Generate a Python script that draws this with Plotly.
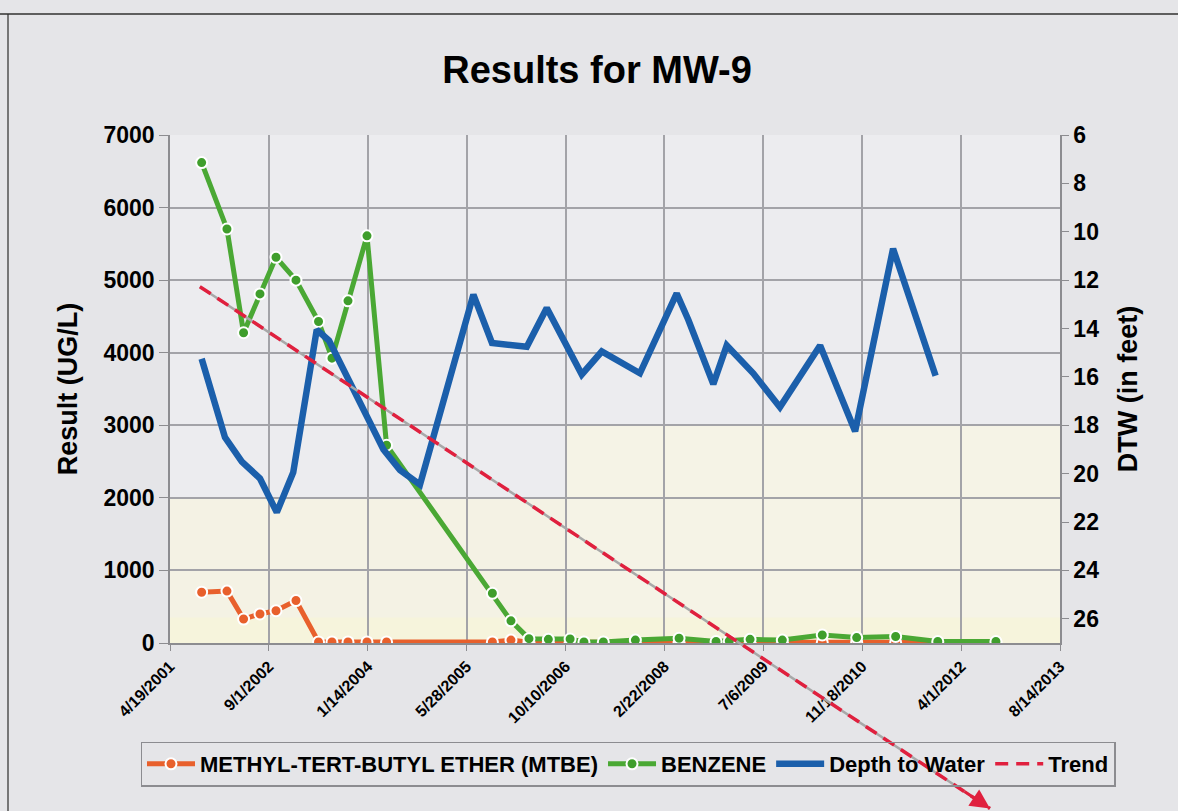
import plotly.graph_objects as go
import pandas as pd

# ---------------- data ----------------
chem_dates = ["2001-09-26", "2002-02-01", "2002-04-26", "2002-07-18", "2002-10-07",
              "2003-01-16", "2003-05-10", "2003-07-17", "2003-10-06", "2004-01-10",
              "2004-04-18", "2005-10-05", "2006-01-07", "2006-04-08", "2006-07-15",
              "2006-11-02", "2007-01-11", "2007-04-19", "2007-09-28", "2008-05-06",
              "2008-11-09", "2009-01-15", "2009-04-30", "2009-10-10", "2010-04-30",
              "2010-10-21", "2011-05-06", "2011-12-05", "2012-09-24"]
mtbe = [700, 715, 330, 400, 445, 585, 15, 15, 15, 15, 15, 15, 40, 10, 10,
        10, 10, 10, 10, 10, 10, 10, 10, 10, 5, 10, 5, 10, 10]
benzene = [6620, 5705, 4275, 4810, 5315, 5000, 4430, 3925, 4715, 5610, 2725, 685, 305, 60, 50,
           55, 15, 15, 40, 65, 20, 30, 50, 40, 110, 75, 90, 20, 20]

dtw_dates = ["2001-09-26", "2002-01-22", "2002-04-17", "2002-07-18", "2002-10-11",
             "2003-01-02", "2003-05-01", "2003-07-02", "2004-04-02", "2004-06-25",
             "2004-10-04", "2005-07-01", "2005-10-03", "2006-03-28", "2006-07-07",
             "2006-12-31", "2007-04-11", "2007-10-21", "2008-04-24", "2008-06-22",
             "2008-10-26", "2009-01-02", "2009-05-16", "2009-09-28", "2010-04-19",
             "2010-10-13", "2011-04-23", "2011-11-24"]
dtw = [15.25, 18.5, 19.5, 20.2, 21.6, 19.95, 14.05, 14.5, 19.0, 19.85,
       20.45, 12.6, 14.6, 14.75, 13.15, 15.9, 14.95, 15.85, 12.55, 13.65,
       16.3, 14.7, 15.85, 17.25, 14.7, 18.25, 10.7, 15.95]

trend_dates = ["2001-09-17", "2012-08-25"]
trend_values = [4910, -2280]

x_tick0 = "2001-04-19"
x_end = "2013-08-14"
y_left_max = 7000
y_right_range = [27, 6]

# ---------------- layout geometry ----------------
W, H = 1178, 811
xdom = [170 / W, 1060 / W]
ydom = [1 - 643 / H, 1 - 135 / H]

# full-figure helper axes that share the main scale (for the trend arrow leaving the plot)
xs, xe = pd.Timestamp(x_tick0), pd.Timestamp(x_end)
span = xe - xs
fx = xdom[1] - xdom[0]
x3_range = [str(xs - span * (xdom[0] / fx)), str(xs + span * ((1 - xdom[0]) / fx))]
fy = ydom[1] - ydom[0]
y3_range = [-y_left_max * ydom[0] / fy, y_left_max * (1 - ydom[0]) / fy]

FONT = "Liberation Sans, Arial, sans-serif"
ORANGE = "#e8602c"
GREEN = "#4aa834"
BLUE = "#1b5fab"
RED = "#e0203e"
GRID = "#a3a3a8"

fig = go.Figure()

fig.add_trace(go.Scatter(
    x=chem_dates, y=mtbe, name="METHYL-TERT-BUTYL ETHER (MTBE)", mode="lines+markers",
    line=dict(color=ORANGE, width=5),
    marker=dict(color=ORANGE, size=11, line=dict(color="white", width=2)),
    xaxis="x", yaxis="y", legendrank=1))

fig.add_trace(go.Scatter(
    x=chem_dates, y=benzene, name="BENZENE", mode="lines+markers",
    line=dict(color=GREEN, width=5),
    marker=dict(color="#3f9e2c", size=11, line=dict(color="white", width=2)),
    xaxis="x", yaxis="y", legendrank=2))

fig.add_trace(go.Scatter(
    x=dtw_dates, y=dtw, name="Depth to Water", mode="lines",
    line=dict(color=BLUE, width=6.5),
    xaxis="x", yaxis="y2", legendrank=3))

fig.add_trace(go.Scatter(
    x=trend_dates, y=trend_values, mode="lines", showlegend=False, hoverinfo="skip",
    line=dict(color="#a8a8a8", width=2.5),
    xaxis="x3", yaxis="y3"))

fig.add_trace(go.Scatter(
    x=trend_dates, y=trend_values, name="Trend", mode="lines",
    line=dict(color=RED, width=3.5, dash="13px,8px"),
    xaxis="x3", yaxis="y3", legendrank=4))

fig.add_annotation(
    x=trend_dates[1], y=trend_values[1], xref="x3", yref="y3",
    ax=-27, ay=-18, axref="pixel", ayref="pixel", text="",
    showarrow=True, arrowhead=2, arrowsize=1.3, arrowwidth=3, arrowcolor=RED)

tickfont = dict(family=FONT, size=23, color="black", weight="bold")

fig.update_layout(
    width=W, height=H,
    template="none",
    margin=dict(l=0, r=0, t=0, b=0, autoexpand=False),
    paper_bgcolor="#e5e5e8",
    plot_bgcolor="rgba(0,0,0,0)",
    font=dict(family=FONT, color="black"),
    title=dict(text="Results for MW-9", x=597 / W, y=1 - 70 / H, xref="paper", yref="paper",
               xanchor="center", yanchor="middle",
               font=dict(family=FONT, size=38, color="black", weight="bold")),
    xaxis=dict(
        domain=xdom, type="date", range=[x_tick0, x_end], autorange=False,
        tick0=x_tick0, dtick=500 * 86400000, tickformat="%-m/%-d/%Y", tickangle=-45,
        tickfont=dict(family=FONT, size=16, color="black", weight="bold"),
        showgrid=True, gridcolor=GRID, gridwidth=1.5,
        showline=True, linecolor="#8c8c90", linewidth=1.5,
        ticks="outside", ticklen=6, tickcolor="#8c8c90",
        zeroline=False, automargin=False, anchor="y"),
    yaxis=dict(
        domain=ydom, range=[0, y_left_max], autorange=False, dtick=1000, tick0=0,
        tickfont=tickfont,
        title=dict(text="Result (UG/L)", standoff=18,
                   font=dict(family=FONT, size=27, color="black", weight="bold")),
        showgrid=True, gridcolor=GRID, gridwidth=1.5,
        showline=True, linecolor="#8c8c90", linewidth=1.5,
        ticks="outside", ticklen=9, tickcolor="#8c8c90",
        zeroline=False, automargin=False, anchor="x"),
    yaxis2=dict(
        overlaying="y", side="right", range=y_right_range, autorange=False,
        tick0=6, dtick=2, tickfont=tickfont,
        title=dict(text="DTW (in feet)", standoff=20,
                   font=dict(family=FONT, size=27, color="black", weight="bold")),
        showgrid=False, showline=True, linecolor="#8c8c90", linewidth=1.5,
        ticks="outside", ticklen=7, tickcolor="#8c8c90",
        zeroline=False, automargin=False, anchor="x"),
    xaxis3=dict(domain=[0, 1], type="date", range=x3_range, autorange=False, visible=False,
                showgrid=False, zeroline=False, anchor="y3", fixedrange=True),
    yaxis3=dict(domain=[0, 1], range=y3_range, autorange=False, visible=False,
                showgrid=False, zeroline=False, anchor="x3", fixedrange=True),
    legend=dict(orientation="h", x=628 / W, y=1 - 764 / H, xanchor="center", yanchor="middle",
                bgcolor="rgba(0,0,0,0)", bordercolor="#8c8c90", borderwidth=1.5,
                font=dict(family=FONT, size=22, color="black", weight="bold"),
                traceorder="normal", itemwidth=48),
    showlegend=True,
)

# plot-area background (grey upper area, cream lower band)
fig.add_shape(type="rect", xref="x domain", yref="y domain", x0=0, x1=1, y0=0, y1=1,
              fillcolor="#ececef", line=dict(width=0), layer="below")
fig.add_shape(type="rect", xref="x domain", yref="y", x0=0, x1=0.445, y0=0, y1=2000,
              fillcolor="#f4f2e4", line=dict(width=0), layer="below")
fig.add_shape(type="rect", xref="x domain", yref="y", x0=0.445, x1=1, y0=0, y1=3000,
              fillcolor="#f5f3e6", line=dict(width=0), layer="below")
fig.add_shape(type="rect", xref="x domain", yref="y", x0=0, x1=1, y0=0, y1=350,
              fillcolor="#f6f4dc", line=dict(width=0), layer="below")

# frame of the scanned chart box
fig.add_shape(type="line", xref="paper", yref="paper", x0=8 / W, x1=8 / W, y0=0, y1=1 - 14 / H,
              line=dict(color="#505050", width=1.5), layer="below")
fig.add_shape(type="line", xref="paper", yref="paper", x0=0, x1=1, y0=1 - 14 / H, y1=1 - 14 / H,
              line=dict(color="#303030", width=1.5), layer="below")

fig.write_html("out.html", config={"displayModeBar": False},
               post_script="document.body.style.margin='0';document.body.style.overflow='hidden';")
